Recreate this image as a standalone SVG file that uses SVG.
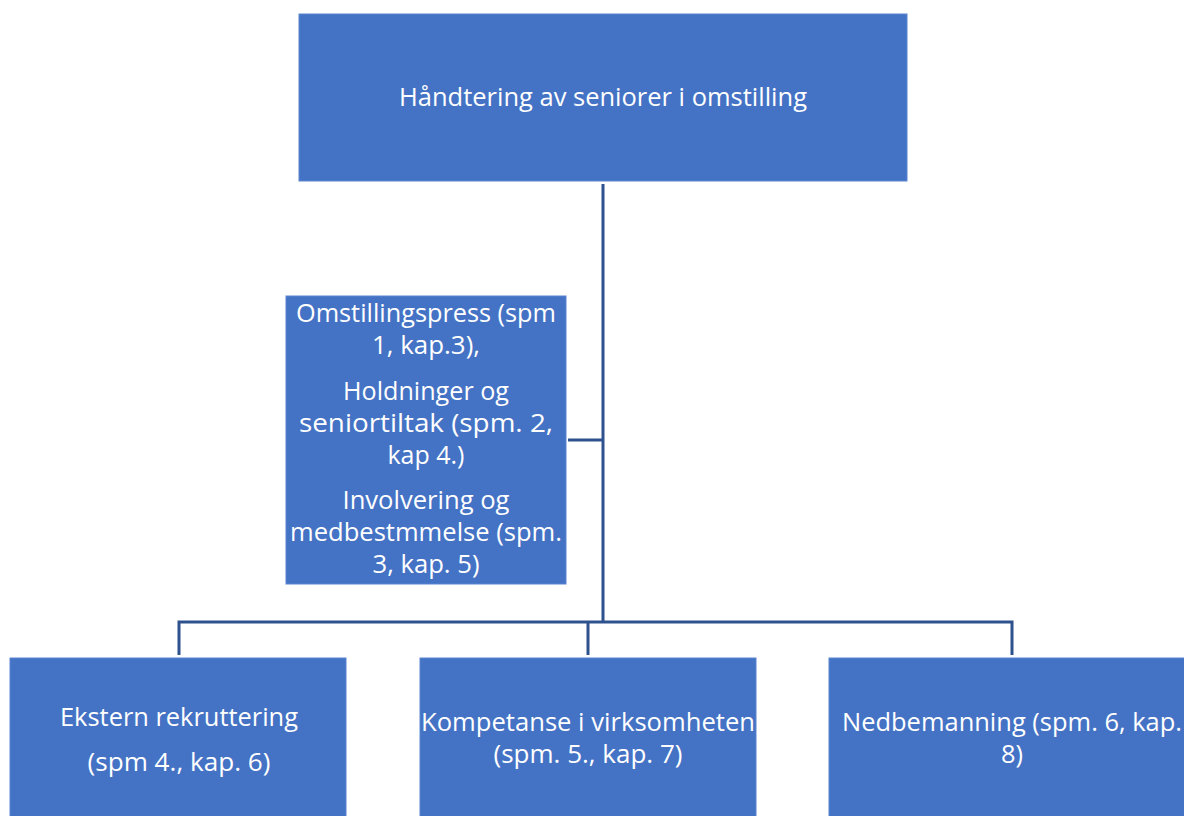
<svg xmlns="http://www.w3.org/2000/svg" width="1184" height="816" viewBox="0 0 1184 816">
<style>
.box{fill:#4472C4;stroke:#5B86D0;stroke-width:1}
.t{font-family:"Open Sans","Liberation Sans",sans-serif;font-size:25px;fill:#FFFFFF;text-anchor:middle}
.c{fill:none;stroke:#2F528F;stroke-width:3}
</style>
<rect width="1184" height="816" fill="#FFFFFF"/>
<g id="connectors">
<path class="c" d="M603,184 V622"/>
<path class="c" d="M568,440 H603"/>
<path class="c" d="M179,655 V622 H1012 V655"/>
<path class="c" d="M588,622 V655"/>
</g>
<g id="top">
<rect class="box" x="299" y="14" width="608" height="167"/>
<text class="t" x="603" y="106" textLength="408" lengthAdjust="spacingAndGlyphs">Håndtering av seniorer i omstilling</text>
</g>
<g id="middle">
<rect class="box" x="286" y="296" width="280" height="288"/>
<text class="t" x="426" y="322" textLength="260" lengthAdjust="spacingAndGlyphs">Omstillingspress (spm</text>
<text class="t" x="426" y="354" textLength="108" lengthAdjust="spacingAndGlyphs">1, kap.3),</text>
<text class="t" x="426" y="400" textLength="166" lengthAdjust="spacingAndGlyphs">Holdninger og</text>
<text class="t" x="426" y="432" textLength="254" lengthAdjust="spacingAndGlyphs">seniortiltak (spm. 2,</text>
<text class="t" x="426" y="464" textLength="77" lengthAdjust="spacingAndGlyphs">kap 4.)</text>
<text class="t" x="426" y="509" textLength="167" lengthAdjust="spacingAndGlyphs">Involvering og</text>
<text class="t" x="426" y="541" textLength="272" lengthAdjust="spacingAndGlyphs">medbestmmelse (spm.</text>
<text class="t" x="426" y="573" textLength="107" lengthAdjust="spacingAndGlyphs">3, kap. 5)</text>
</g>
<g id="b1">
<rect class="box" x="10" y="658" width="336" height="170"/>
<text class="t" x="179" y="726" textLength="238" lengthAdjust="spacingAndGlyphs">Ekstern rekruttering</text>
<text class="t" x="179" y="771" textLength="183" lengthAdjust="spacingAndGlyphs">(spm 4., kap. 6)</text>
</g>
<g id="b2">
<rect class="box" x="420" y="658" width="336" height="170"/>
<text class="t" x="588" y="731" textLength="334" lengthAdjust="spacingAndGlyphs">Kompetanse i virksomheten</text>
<text class="t" x="588" y="763" textLength="189" lengthAdjust="spacingAndGlyphs">(spm. 5., kap. 7)</text>
</g>
<g id="b3">
<rect class="box" x="829" y="658" width="370" height="170"/>
<text class="t" x="1012" y="731" textLength="340" lengthAdjust="spacingAndGlyphs">Nedbemanning (spm. 6, kap.</text>
<text class="t" x="1012" y="763" textLength="22" lengthAdjust="spacingAndGlyphs">8)</text>
</g>
</svg>
